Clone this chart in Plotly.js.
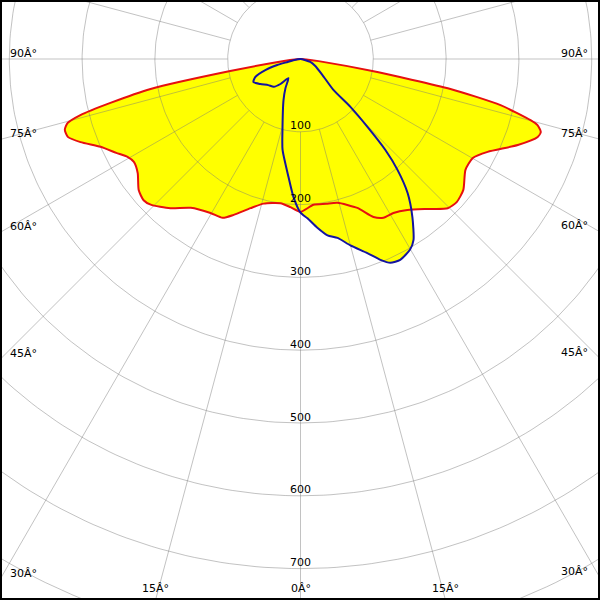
<!DOCTYPE html>
<html><head><meta charset="utf-8">
<script src="https://cdn.plot.ly/plotly-3.0.1.min.js"></script>
<style>html,body{margin:0;padding:0;background:#fff;overflow:hidden}#chart{width:600px;height:600px}</style>
</head><body><div id="chart"></div>
<script>
// Luminous intensity curves (gamma in degrees from nadir, negative = left side)
const redAngles = [-90,-86,-83.3,-80.3,-78.7,-77,-75.7,-74.6,-73.3,-71.5,-69.3,-66.3,-63,-60.5,-58.3,-55,-51,-48,-45.8,-41.1,-36.4,-30.3,-26.1,-23.2,-18.5,-14.3,-7.9,-3.9,0,5.1,10,14.4,20.9,24.8,27.6,31.1,35.3,40.3,44.6,47.5,51.2,56.1,60.1,63.6,68.4,71.8,73.1,74.4,75.1,77,78.7,80.5,83.3,86,90];
const redValues = [0,8,23,98,210,268,312,332,338,337,323,300,284,273,269,273,286,290,287,272,254,245,243,233,216,205,200,204,210,201,202,204,219,239,246,247,254,270,288,291,287,273,273,287,321,343,345,338,327,282,210,100,25,8,0];

const blueAngles = [-90,-80,-77,-75.4,-72.6,-68.2,-63.9,-58,-51,-44,-38.7,-32.3,-27.3,-22.5,-14.2,-11.2,-5.8,-2.9,0,2.5,5.7,8.7,11.7,15,19,21.7,23.8,26.4,29.9,32,35.3,38.6,41.2,43,44.6,46.2,46.8,54,65,73,90];
const blueValues = [0,10,18,33,50,67,72,65,57,53,44,31,45,61,101,127,163,190,211,219,233,245,251,265,282,297,306,308,302,293,266,236,202,171,131,95,62,37,22,14,0];

const radialTicks = [100,200,300,400,500,600,700];
const radialTickLabels = ['100','200','300','400','500','600','700'];
const sideAngles = [90,75,60,45,30];
const sideLabels = ['90\u00C2\u00B0','75\u00C2\u00B0','60\u00C2\u00B0','45\u00C2\u00B0','30\u00C2\u00B0'];
const bottomAngles = [-15,0,15];
const bottomLabels = ['15\u00C2\u00B0','0\u00C2\u00B0','15\u00C2\u00B0'];
const gridRadii = [100,200,300,400,500,600,700,800,900,1000];
const gridAngles = [0,15,30,45,60,75,90,105,120,135,150,165,180,195,210,225,240,255,270,285,300,315,330,345];

// layout geometry
const K = 0.728, CX = 300.5, CY = 59, W = 600, H = 600;
const xr = [-CX / K, (W - CX) / K];
const yr = [-(H - CY) / K, CY / K];
const D = Math.PI / 180;

function toXY(angles, values) {
  return {
    x: values.map((r, i) => r * Math.sin(angles[i] * D)),
    y: values.map((r, i) => -r * Math.cos(angles[i] * D))
  };
}
const red = toXY(redAngles, redValues);
const blue = toXY(blueAngles, blueValues);

// grid
const gx = [], gy = [];
gridAngles.forEach(a => {
  gx.push(100 * Math.sin(a * D), 1200 * Math.sin(a * D), null);
  gy.push(-100 * Math.cos(a * D), -1200 * Math.cos(a * D), null);
});
const cx = [], cy = [];
gridRadii.forEach(r => {
  for (let t = 0; t <= 360; t += 1) { cx.push(r * Math.sin(t * D)); cy.push(-r * Math.cos(t * D)); }
  cx.push(null); cy.push(null);
});

const gridLine = {color: 'rgba(120,120,120,0.45)', width: 1};
const traces = [
  {x: red.x, y: red.y, mode: 'lines', fill: 'toself', fillcolor: '#ffff00', line: {width: 0, shape: 'spline', smoothing: 0.6}, hoverinfo: 'skip'},
  {x: blue.x, y: blue.y, mode: 'lines', fill: 'toself', fillcolor: '#ffff00', line: {width: 0, shape: 'spline', smoothing: 0.6}, hoverinfo: 'skip'},
  {x: gx, y: gy, mode: 'lines', line: gridLine, hoverinfo: 'skip'},
  {x: cx, y: cy, mode: 'lines', line: gridLine, hoverinfo: 'skip'},
  {x: red.x, y: red.y, mode: 'lines', line: {color: '#e61010', width: 2, shape: 'spline', smoothing: 0.6}, hoverinfo: 'skip'},
  {x: blue.x, y: blue.y, mode: 'lines', line: {color: '#1414a0', width: 2, shape: 'spline', smoothing: 0.6}, hoverinfo: 'skip'}
];

const font = {family: 'DejaVu Sans, sans-serif', size: 11, color: '#000'};
const annotations = [];
radialTicks.forEach((r, i) => annotations.push({
  x: 0, y: -r, xref: 'x', yref: 'y', text: radialTickLabels[i], showarrow: false,
  xanchor: 'center', yanchor: 'middle', yshift: 6, font: font
}));
sideAngles.forEach((a, i) => {
  [-1, 1].forEach(s => {
    const xe = s < 0 ? xr[0] : xr[1];
    const yy = -Math.abs(xe) * Math.cos(a * D) / Math.sin(a * D);
    annotations.push({
      x: xe, y: yy, xref: 'x', yref: 'y', text: sideLabels[i], showarrow: false,
      xanchor: s < 0 ? 'left' : 'right', yanchor: 'middle',
      xshift: s < 0 ? 8 : -10, yshift: 6, font: font
    });
  });
});
bottomAngles.forEach((a, i) => annotations.push({
  x: Math.abs(yr[0]) * Math.tan(a * D), y: yr[0], xref: 'x', yref: 'y', text: bottomLabels[i],
  showarrow: false, xanchor: 'center', yanchor: 'middle', yshift: 12, font: font
}));

const layout = {
  width: W, height: H, margin: {l: 0, r: 0, t: 0, b: 0},
  paper_bgcolor: '#fff', plot_bgcolor: '#fff', showlegend: false,
  xaxis: {range: xr, visible: false, fixedrange: true},
  yaxis: {range: yr, visible: false, fixedrange: true},
  annotations: annotations,
  shapes: [{type: 'rect', xref: 'paper', yref: 'paper', x0: 0, x1: 1, y0: 0, y1: 1,
            line: {color: '#000', width: 4}, layer: 'above'}]
};
Plotly.newPlot('chart', traces, layout, {staticPlot: true, displayModeBar: false});
</script></body></html>
